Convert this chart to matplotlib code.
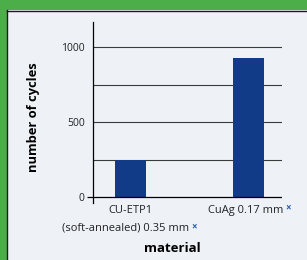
import matplotlib.pyplot as plt
from matplotlib.patches import Rectangle

# data
materials = ["CU-ETP1", "CuAg 0.17 mm"]
cycles = [250, 925]
y_ticks = [0, 500, 1000]
grid_levels = [250, 500, 750, 1000]

green = "#4cae48"
panel = "#eef2f7"
bar_color = "#113a87"
mark_color = "#2b5cb3"
text_color = "#222222"

plt.rcParams["font.family"] = ["Open Sans", "DejaVu Sans"]

fig = plt.figure(figsize=(3.07, 2.60), dpi=100)
fig.patch.set_facecolor(green)

# light panel with a dark edge on top and left
fig.patches.append(Rectangle((7 / 307, 0), 1, 1 - 10 / 260, transform=fig.transFigure,
                             facecolor=panel, edgecolor="none", zorder=-2))
fig.lines.append(plt.Line2D([7 / 307, 1], [1 - 10.5 / 260] * 2, transform=fig.transFigure,
                            color="#1a1a1a", lw=1.0, zorder=-1))
fig.lines.append(plt.Line2D([6.5 / 307] * 2, [0, 1 - 10 / 260], transform=fig.transFigure,
                            color="#1a1a1a", lw=1.0, zorder=-1))

ax = fig.add_axes([93 / 307, 1 - 203 / 260, (282 - 93) / 307, (203 - 22) / 260])
ax.set_facecolor("none")

xmin, xmax = -0.318, 1.284
x = list(range(len(cycles)))
ax.bar(x, cycles, width=0.263, color=bar_color, zorder=3)

ax.hlines(grid_levels, xmin, xmax, color="#3a3a3a", lw=0.8, zorder=1)
ax.hlines(0, xmin, xmax, color="black", lw=0.9, zorder=4)

ax.set_xlim(xmin, xmax)
ax.set_ylim(-40, 1167)
for s in ["top", "right", "bottom"]:
    ax.spines[s].set_visible(False)
ax.spines["left"].set_linewidth(0.9)
ax.spines["left"].set_color("black")

ax.set_xticks([])
ax.set_yticks(y_ticks)
ax.set_yticklabels([str(t) for t in y_ticks], fontsize=7.5, color=text_color)
ax.tick_params(axis="y", length=4, width=0.9, pad=2)
# only the zero tick shows its mark
for t in ax.yaxis.get_major_ticks()[1:]:
    t.tick1line.set_visible(False)

# category labels with the blue marks
ax.text(x[0], -89, materials[0], ha="center", va="center", fontsize=8, color=text_color)
ax.text(x[0] - 0.04, -205, "(soft-annealed) 0.35 mm", ha="center", va="center",
        fontsize=8, color=text_color)
ax.text(x[0] + 0.52, -198, "\u00d7", ha="left", va="center", fontsize=7, color=mark_color,
        fontweight="bold")
ax.text(x[1] - 0.02, -89, materials[1], ha="center", va="center", fontsize=8,
        color=text_color)
ax.text(x[1] + 0.315, -72, "\u00d7", ha="left", va="center", fontsize=7, color=mark_color,
        fontweight="bold")

ax.text(0.42, -0.25, "material", transform=ax.transAxes, ha="center", va="center",
        fontsize=9.5, fontweight="bold", color="black")
ax.text(-0.317, 0.475, "number of cycles", transform=ax.transAxes, ha="center", va="center",
        rotation=90, fontsize=9.3, fontweight="bold", color="black")

fig.savefig("out.png", dpi=100, facecolor=fig.get_facecolor())
